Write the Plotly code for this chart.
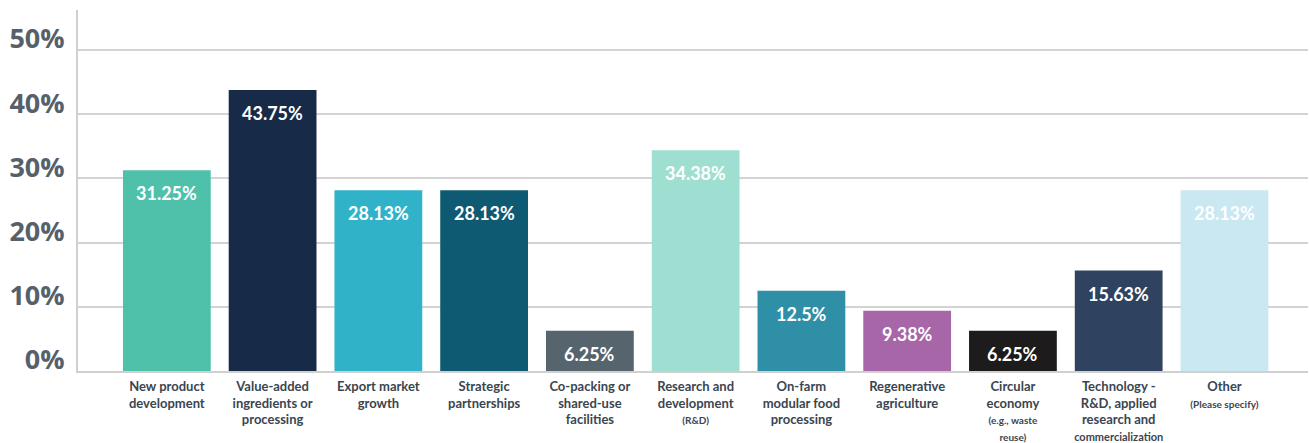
import plotly.graph_objects as go

categories = [
    "New product<br>development",
    "Value-added<br>ingredients or<br>processing",
    "Export market<br>growth",
    "Strategic<br>partnerships",
    "Co-packing or<br>shared-use<br>facilities",
    "Research and<br>development<br><span style='font-size:10px'>(R&D)</span>",
    "On-farm<br>modular food<br>processing",
    "Regenerative<br>agriculture",
    "Circular<br>economy<br><span style='font-size:10px'>(e.g., waste<br>reuse)</span>",
    "Technology -<br>R&D, applied<br>research and<br><span style='font-size:11px'>commercialization</span>",
    "Other<br><span style='font-size:10px'>(Please specify)</span>",
]
values = [31.25, 43.75, 28.13, 28.13, 6.25, 34.38, 12.5, 9.38, 6.25, 15.63, 28.13]
labels = ["31.25%", "43.75%", "28.13%", "28.13%", "6.25%", "34.38%", "12.5%", "9.38%", "6.25%", "15.63%", "28.13%"]
colors = ["#4fc1ab", "#172a48", "#30b3c9", "#0f5a73", "#56646e", "#9fdfd1",
          "#2f8fa6", "#a766a8", "#1d1b1c", "#2f4360", "#c9e8f2"]
ytick_vals = [0, 10, 20, 30, 40, 50]
ytick_text = ["0%", "10%", "20%", "30%", "40%", "50%"]

fig = go.Figure()
fig.add_trace(go.Bar(
    x=list(range(len(categories))), y=values,
    marker=dict(color=colors, line=dict(width=0)),
    width=0.83, hoverinfo="skip",
))

for i, (v, t) in enumerate(zip(values, labels)):
    fig.add_annotation(x=i, y=v, text=t, showarrow=False, yanchor="middle",
                       yshift=-23, font=dict(family="Lato", size=18, color="white", weight="bold"))

fig.update_layout(
    width=1309, height=443,
    margin=dict(l=78, r=1, t=10, b=72, autoexpand=False),
    plot_bgcolor="white", paper_bgcolor="white",
    showlegend=False,
    xaxis=dict(
        tickmode="array", tickvals=list(range(len(categories))), ticktext=categories,
        range=[-0.84, 10.79], showgrid=False, zeroline=False,
        showline=True, linecolor="#d0d0d0", linewidth=2,
        tickfont=dict(family="Lato", size=13, color="#3a4550", weight="bold"),
        ticks="", tickangle=0, ticklabelstandoff=2, automargin=False,
    ),
    yaxis=dict(
        range=[0, 56.2], tickmode="array", tickvals=ytick_vals, ticktext=ytick_text,
        showgrid=True, gridcolor="#d3d3d3", gridwidth=2,
        zeroline=False, showline=True, linecolor="#d0d0d0", linewidth=2,
        ticks="", ticklabelposition="outside", ticklabelstandoff=6, ticklabelshift=-11,
        tickfont=dict(family="Open Sans", size=27, color="#55606a", weight="bold"),
        automargin=False,
    ),
)

fig.write_html("out.html")
